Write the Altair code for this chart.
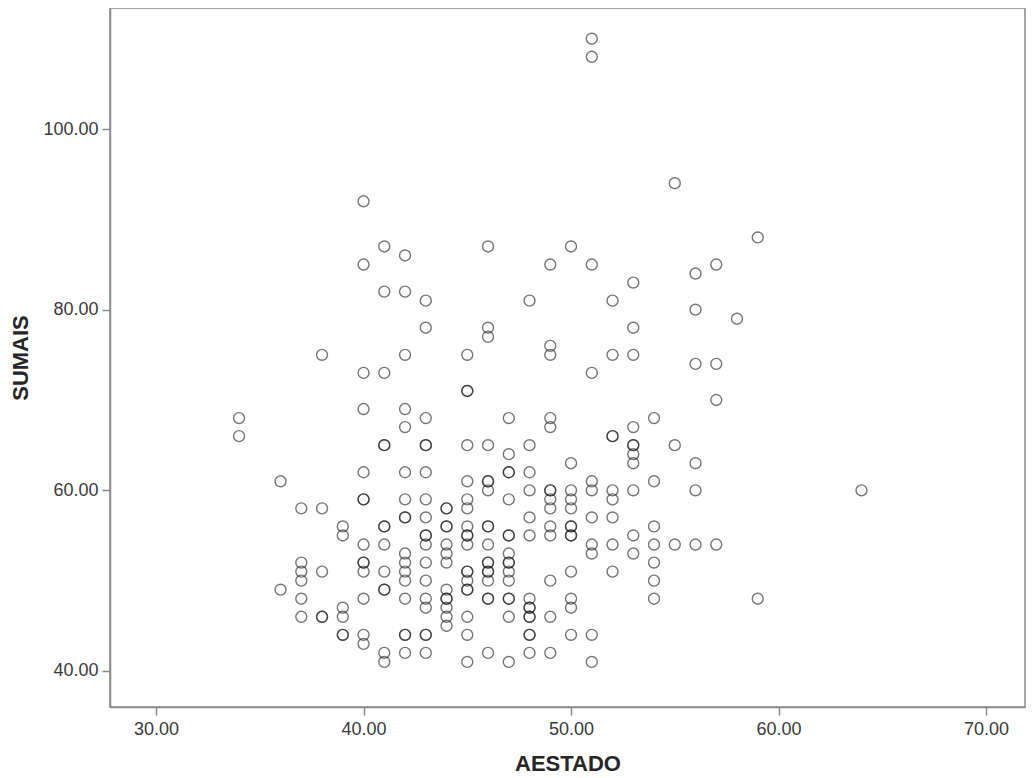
import altair as alt
import pandas as pd

# AESTADO values (x) and the SUMAIS values (y) observed at each of them
X_VALUES = [34, 36, 37, 38, 39, 40, 41, 42, 43, 44, 45, 46, 47, 48, 49, 50,
            51, 52, 53, 54, 55, 56, 57, 58, 59, 64]

S34 = [68, 66]
S36 = [61, 49]
S37 = [58, 52, 51, 50, 48, 46]
S38 = [75, 58, 51, 46, 46]
S39 = [56, 55, 47, 46, 44, 44]
S40 = [92, 85, 73, 69, 62, 59, 59, 54, 52, 52, 51, 48, 44, 43]
S41 = [87, 82, 73, 65, 65, 56, 56, 54, 51, 49, 49, 42, 41]
S42 = [86, 82, 75, 69, 67, 62, 59, 57, 57, 53, 52, 51, 50, 48, 44, 44, 42]
S43 = [81, 78, 68, 65, 65, 62, 59, 57, 55, 55, 54, 52, 50, 48, 47, 44, 44, 42]
S44 = [58, 58, 56, 56, 54, 53, 52, 49, 48, 48, 47, 46, 45]
S45 = [75, 71, 71, 65, 61, 59, 58, 56, 55, 55, 54, 51, 51, 50, 49, 49, 46, 44, 41]
S46 = [87, 78, 77, 65, 61, 61, 60, 56, 56, 54, 52, 52, 51, 51, 50, 48, 48, 42]
S47 = [68, 64, 62, 62, 59, 55, 55, 53, 52, 52, 51, 50, 48, 48, 46, 41]
S48 = [81, 65, 62, 60, 57, 55, 48, 47, 47, 46, 46, 44, 44, 42]
S49 = [85, 76, 75, 68, 67, 60, 60, 59, 58, 56, 55, 50, 46, 42]
S50 = [87, 63, 60, 59, 58, 56, 56, 55, 55, 51, 48, 47, 44]
S51 = [110, 108, 85, 73, 61, 60, 57, 54, 53, 44, 41]
S52 = [81, 75, 66, 66, 60, 59, 57, 54, 51]
S53 = [83, 78, 75, 67, 65, 65, 64, 63, 60, 55, 53]
S54 = [68, 61, 56, 54, 52, 50, 48]
S55 = [94, 65, 54]
S56 = [84, 80, 74, 63, 60, 54]
S57 = [85, 74, 70, 54]
S58 = [79]
S59 = [88, 48]
S64 = [60]

COLUMNS = [S34, S36, S37, S38, S39, S40, S41, S42, S43, S44, S45, S46, S47,
           S48, S49, S50, S51, S52, S53, S54, S55, S56, S57, S58, S59, S64]

X_TICKS = [30, 40, 50, 60, 70]
Y_TICKS = [40, 60, 80, 100]

rows = []
for xv, col in zip(X_VALUES, COLUMNS):
    for yv in col:
        rows.append({"AESTADO": xv, "SUMAIS": yv})
df = pd.DataFrame(rows)

FONT = "Liberation Sans"
AXIS_GREY = "#8a8a8a"

chart = (
    alt.Chart(df)
    .mark_point(shape="circle", filled=False, size=120, stroke="#1a1a1a",
                strokeWidth=1.4, strokeOpacity=0.85)
    .encode(
        x=alt.X("AESTADO:Q",
                scale=alt.Scale(domain=[27.78, 71.88], nice=False, zero=False),
                axis=alt.Axis(values=X_TICKS, format=".2f", title="AESTADO",
                              grid=False, labelPadding=5, titlePadding=15)),
        y=alt.Y("SUMAIS:Q",
                scale=alt.Scale(domain=[36.01, 113.40], nice=False, zero=False),
                axis=alt.Axis(values=Y_TICKS, format=".2f", title="SUMAIS",
                              grid=False, labelPadding=4, titlePadding=10)),
    )
    .properties(
        width=915, height=699,
        background="white",
        autosize=alt.AutoSizeParams(type="none"),
        padding={"left": 102, "top": 0, "right": 1, "bottom": 72},
    )
    .configure_view(stroke=AXIS_GREY, strokeWidth=1.5)
    .configure_axis(
        grid=False,
        domainColor=AXIS_GREY, domainWidth=1.5,
        tickColor=AXIS_GREY, tickWidth=1.5, tickSize=8,
        labelFont=FONT, labelFontSize=18, labelColor="#3a3a3a",
        titleFont=FONT, titleFontSize=22, titleFontWeight="bold",
        titleColor="#262626",
    )
)

chart.save("out.html", embed_options={"renderer": "svg", "actions": False})
